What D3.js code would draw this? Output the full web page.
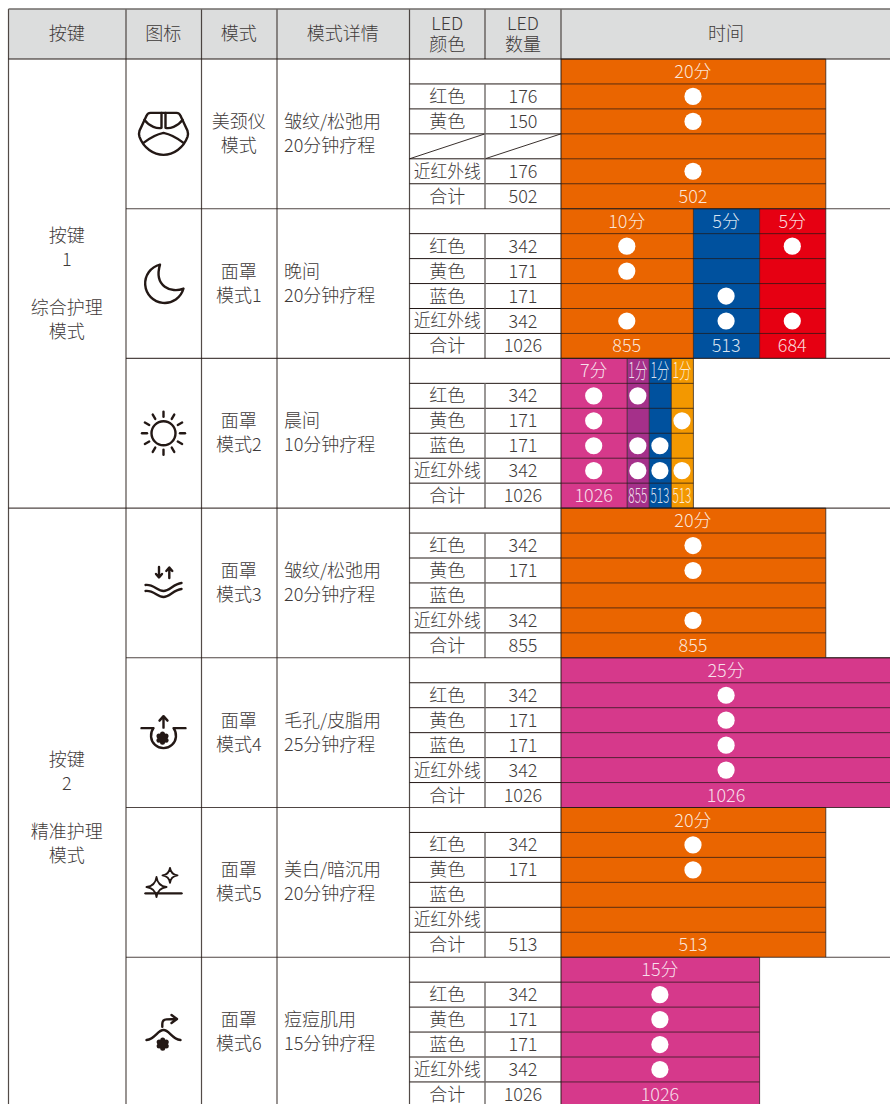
<!DOCTYPE html>
<html>
<head>
<meta charset="utf-8">
<style>
  body { margin: 0; background: #fff; }
  text { font-family: "Noto Sans CJK SC", "Noto Sans", sans-serif; font-weight: 300; }
</style>
<script src="https://cdn.jsdelivr.net/npm/d3@7"></script>
</head>
<body>
<div id="chart"></div>
<script>
// table content, one entry per mode
var headers = ["按键", "图标", "模式", "模式详情", ["LED", "颜色"], ["LED", "数量"], "时间"];
var buttonLabels = [["按键", "1", "", "综合护理", "模式"], ["按键", "2", "", "精准护理", "模式"]];
var buttonModeCounts = [3, 4];
var iconNames = ["neck", "moon", "sun", "waves", "pore", "sparkle", "acne"];
var modeNames = [["美颈仪", "模式"], ["面罩", "模式1"], ["面罩", "模式2"], ["面罩", "模式3"], ["面罩", "模式4"], ["面罩", "模式5"], ["面罩", "模式6"]];
var modeDetails = [
    ["皱纹/松弛用", "20分钟疗程"], ["晚间", "20分钟疗程"], ["晨间", "10分钟疗程"], ["皱纹/松弛用", "20分钟疗程"],
    ["毛孔/皮脂用", "25分钟疗程"], ["美白/暗沉用", "20分钟疗程"], ["痘痘肌用", "15分钟疗程"]
];
var ledNames = [
    ["红色", "黄色", null, "近红外线", "合计"],
    ["红色", "黄色", "蓝色", "近红外线", "合计"],
    ["红色", "黄色", "蓝色", "近红外线", "合计"],
    ["红色", "黄色", "蓝色", "近红外线", "合计"],
    ["红色", "黄色", "蓝色", "近红外线", "合计"],
    ["红色", "黄色", "蓝色", "近红外线", "合计"],
    ["红色", "黄色", "蓝色", "近红外线", "合计"]
];
var ledCounts = [
    [176, 150, null, 176, 502],
    [342, 171, 171, 342, 1026],
    [342, 171, 171, 342, 1026],
    [342, 171, "", 342, 855],
    [342, 171, 171, 342, 1026],
    [342, 171, "", "", 513],
    [342, 171, 171, 342, 1026]
];
var segmentMinutes = [[20], [10, 5, 5], [7, 1, 1, 1], [20], [25], [20], [15]];
var segmentKinds = [
    ["orange"], ["orange", "blue", "red"], ["pink", "purple", "blue", "amber"],
    ["orange"], ["pink"], ["orange"], ["pink"]
];
// one row per LED colour, one flag per segment
var ledOn = [
    [[1], [1], [0], [1]],
    [[1, 0, 1], [1, 0, 0], [0, 1, 0], [1, 1, 1]],
    [[1, 1, 0, 0], [1, 0, 0, 1], [1, 1, 1, 0], [1, 1, 1, 1]],
    [[1], [1], [0], [1]],
    [[1], [1], [1], [1]],
    [[1], [1], [0], [0]],
    [[1], [1], [1], [1]]
];
var segmentTotals = [[502], [855, 513, 684], [1026, 855, 513, 513], [855], [1026], [513], [1026]];

var width = 890, height = 1104;
var ink = "#3e3a39", line = "#231815";
var rowsPerMode = 6;
var headerTop = 9, bodyTop = 59, rowHeight = 24.95;

var cols = [8.5, 126, 201.5, 277, 409.5, 485, 561];

var y = d3.scaleLinear().domain([0, 1]).range([bodyTop, bodyTop + rowHeight]);
var x = d3.scaleLinear().domain([0, 25]).range([561, 892]);

var color = d3.scaleOrdinal()
    .domain(["orange", "blue", "red", "pink", "purple", "amber"])
    .range(["#ea6500", "#00519e", "#e60012", "#d6398b", "#a5308a", "#f39800"]);

// the morning programme is not drawn to scale: 7 min gets half the width
function drawnMinutes(mode, m) {
    if (mode === 2) return m === 7 ? 5 : 5 / 3;
    return m;
}

var svg = d3.select("#chart").append("svg")
    .attr("width", width)
    .attr("height", height)
    .style("display", "block");

function label(g, str, px, py, opts) {
    opts = opts || {};
    var t = g.append("text")
        .attr("x", px)
        .attr("y", py)
        .attr("text-anchor", opts.anchor || "middle")
        .attr("font-size", opts.size || 18)
        .attr("fill", opts.fill || ink)
        .attr("fill-opacity", opts.opacity || 1)
        .text(str);
    if (opts.squeeze) {
        // narrow cells use horizontally condensed text
        var sx = opts.squeeze / t.node().getComputedTextLength();
        t.attr("transform", "translate(" + px + ",0) scale(" + sx + ",1) translate(" + (-px) + ",0)");
    }
    return t;
}

// header band
svg.append("rect")
    .attr("x", cols[0]).attr("y", headerTop)
    .attr("width", width - cols[0]).attr("height", bodyTop - headerTop)
    .attr("fill", "#dcdddd");
var headerCentres = d3.pairs(cols.concat([892])).map(function(p) { return (p[0] + p[1]) / 2; });
headers.forEach(function(h, i) {
    if (Array.isArray(h)) {
        label(svg, h[0], headerCentres[i], 30);
        label(svg, h[1], headerCentres[i], 51);
    } else {
        label(svg, h, i === 6 ? 726 : headerCentres[i] - 0.5, 40);
    }
});

// time segments first, grid goes on top of them
modeNames.forEach(function(name, m) {
    var top = y(m * rowsPerMode);
    var g = svg.append("g").attr("class", "mode");
    var start = 0;
    var total = d3.sum(segmentMinutes[m], function(v) { return drawnMinutes(m, v); });
    segmentMinutes[m].forEach(function(min, s) {
        var span = drawnMinutes(m, min);
        g.append("rect")
            .attr("x", x(start)).attr("y", top)
            .attr("width", x(start + span) - x(start)).attr("height", rowHeight * rowsPerMode)
            .attr("fill", color(segmentKinds[m][s]));
        start += span;
    });
    // row rules across the coloured part
    d3.range(0, rowsPerMode).forEach(function(r) {
        g.append("line")
            .attr("x1", x(0)).attr("x2", x(total))
            .attr("y1", y(m * rowsPerMode + r)).attr("y2", y(m * rowsPerMode + r))
            .attr("stroke", line).attr("stroke-opacity", 0.72).attr("stroke-width", 1);
    });
    start = 0;
    segmentMinutes[m].forEach(function(min, s) {
        var span = drawnMinutes(m, min);
        var x0 = x(start), x1 = x(start + span), cx = (x0 + x1) / 2 - 0.4;
        g.append("line")
            .attr("x1", x1).attr("x2", x1).attr("y1", top).attr("y2", top + rowHeight * rowsPerMode)
            .attr("stroke", line).attr("stroke-opacity", 0.72).attr("stroke-width", 1);
        var narrow = span < 2;
        var barText = { fill: "#fff", opacity: 0.85, squeeze: narrow ? 19 : null, size: narrow ? 21 : 18 };
        label(g, min + "分", cx, y(m * rowsPerMode) + (narrow ? 20 : 19), barText);
        ledOn[m].forEach(function(flags, r) {
            if (!flags[s]) return;
            g.append("circle")
                .attr("cx", cx).attr("cy", y(m * rowsPerMode + r + 1.5))
                .attr("r", 8.6)
                .attr("fill", "#fff");
        });
        label(g, segmentTotals[m][s], cx, y(m * rowsPerMode + 5) + (narrow ? 20 : 19), barText);
        start += span;
    });

    // LED colour and count columns
    ledNames[m].forEach(function(led, r) {
        var ry = y(m * rowsPerMode + r + 1);
        g.append("line")
            .attr("x1", cols[4]).attr("x2", cols[6]).attr("y1", ry).attr("y2", ry)
            .attr("stroke", line).attr("stroke-width", 1);
        if (led === null) {
            [4, 5].forEach(function(c) {
                g.append("line")
                    .attr("x1", cols[c]).attr("x2", cols[c + 1])
                    .attr("y1", ry + rowHeight).attr("y2", ry)
                    .attr("stroke", line).attr("stroke-width", 0.9);
            });
            return;
        }
        label(g, led, headerCentres[4], ry + 19, { squeeze: led === "近红外线" ? 67 : null });
        label(g, ledCounts[m][r], headerCentres[5], ry + 19);
    });
    g.append("line")
        .attr("x1", cols[5]).attr("x2", cols[5])
        .attr("y1", y(m * rowsPerMode + 1)).attr("y2", y(m * rowsPerMode + rowsPerMode))
        .attr("stroke", "#6f6b69").attr("stroke-width", 1.4);

    // mode name and details
    var midY = y(m * rowsPerMode + rowsPerMode / 2);
    name.forEach(function(t, i) {
        label(g, t, headerCentres[2] - 0.5, midY + (i === 0 ? -6 : 18));
    });
    modeDetails[m].forEach(function(t, i) {
        label(g, t, 284, midY + (i === 0 ? -6 : 18), { anchor: "start" });
    });
    drawIcon(iconNames[m], g.append("g").attr("transform", "translate(163.5," + midY + ")"));
});

// button column
var modeOffset = 0;
buttonLabels.forEach(function(lines, b) {
    var mid = y((modeOffset + buttonModeCounts[b] / 2) * rowsPerMode);
    lines.forEach(function(t, i) {
        if (t) label(svg, t, headerCentres[0] - 0.5, mid + (i - 2) * 24 + 6);
    });
    modeOffset += buttonModeCounts[b];
});

// grid, the LED count rule is left out of the merged cell of each mode
var bottom = y(iconNames.length * rowsPerMode);
cols.forEach(function(c, i) {
    svg.append("line")
        .attr("x1", c).attr("x2", c).attr("y1", headerTop).attr("y2", i === 5 ? bodyTop : bottom)
        .attr("stroke", line).attr("stroke-opacity", 0.78).attr("stroke-width", 1.2);
});
svg.append("line").attr("x1", cols[0]).attr("x2", width).attr("y1", headerTop).attr("y2", headerTop)
    .attr("stroke", "#6f6b69").attr("stroke-width", 1.4);
svg.append("line").attr("x1", cols[0]).attr("x2", width).attr("y1", bodyTop).attr("y2", bodyTop)
    .attr("stroke", line).attr("stroke-width", 1.2);
iconNames.forEach(function(n, m) {
    if (m === 0) return;
    svg.append("line")
        .attr("x1", m === buttonModeCounts[0] ? cols[0] : cols[1]).attr("x2", width)
        .attr("y1", y(m * rowsPerMode)).attr("y2", y(m * rowsPerMode))
        .attr("stroke", line).attr("stroke-opacity", 0.8).attr("stroke-width", 1.1);
});

// icon glyphs, drawn around (0,0) of the icon cell
function drawIcon(name, g) {
    g.attr("fill", "none").attr("stroke", "#231815").attr("stroke-width", 2.4)
        .attr("stroke-linecap", "round").attr("stroke-linejoin", "round");
    function path(d) { return g.append("path").attr("d", d); }
    function flower(cx, cy) {
        d3.range(6).forEach(function(i) {
            var a = i * Math.PI / 3 + Math.PI / 6;
            g.append("circle")
                .attr("cx", cx + 4.1 * Math.cos(a)).attr("cy", cy + 4.1 * Math.sin(a))
                .attr("r", 2.5).attr("fill", "#231815").attr("stroke", "none");
        });
        g.append("circle").attr("cx", cx).attr("cy", cy).attr("r", 3.8).attr("fill", "#231815").attr("stroke", "none");
    }
    function star(cx, cy, r) {
        var k = r * 0.12;
        path("M" + cx + "," + (cy - r) +
            "Q" + (cx + k) + "," + (cy - k) + " " + (cx + r) + "," + cy +
            "Q" + (cx + k) + "," + (cy + k) + " " + cx + "," + (cy + r) +
            "Q" + (cx - k) + "," + (cy + k) + " " + (cx - r) + "," + cy +
            "Q" + (cx - k) + "," + (cy - k) + " " + cx + "," + (cy - r) + "Z")
            .attr("stroke-width", 1.9);
    }
    if (name === "neck") {
        path("M-13,-21Q-16,-21 -17,-18L-24,-3Q-25,0 -24,3C-20,14 -10,21 0,21C10,21 20,14 24,3Q25,0 24,-3L17,-18Q16,-21 13,-21Z");
        path("M-19,-14C-14,-7 -6,-5 -2,-6L-2,-21");
        path("M19,-14C14,-7 6,-5 2,-6L2,-21");
        path("M-20,9C-11,2 -5,0 0,-1C5,0 11,2 20,9");
    } else if (name === "moon") {
        path("M-3.5,-19A19.5,19.5 0 1 0 20,5C8,10 -10,3 -3.5,-19Z");
    } else if (name === "sun") {
        g.append("circle").attr("r", 12);
        d3.range(12).forEach(function(i) {
            var a = i * Math.PI / 6;
            g.append("line")
                .attr("x1", 16.5 * Math.cos(a)).attr("y1", 16.5 * Math.sin(a))
                .attr("x2", 21.5 * Math.cos(a)).attr("y2", 21.5 * Math.sin(a));
        });
    } else if (name === "waves") {
        path("M-18,2C-10,1 -6,8 0,8C6,8 10,1 18,0");
        path("M-18,8C-10,7 -6,14 0,14C6,14 10,7 18,6");
        path("M-4.5,-16L-4.5,-6M-7.5,-9L-4.5,-5.5L-1.5,-9");
        path("M5.8,-5L5.8,-15M2.8,-12L5.8,-15.5L8.8,-12");
    } else if (name === "pore") {
        path("M-22,-4.5L-10,-4.5A12.5,12.5 0 1 0 10,-4.5L22,-4.5");
        path("M0,-5L0,-16M-4,-12L0,-16.5L4,-12");
        flower(-1, 5.5);
    } else if (name === "sparkle") {
        star(-7, 4.7, 10);
        star(6.5, -7, 7.5);
        path("M-18,11L18,11");
    } else if (name === "acne") {
        path("M-17,8C-8,7 -6,-2 0,-2C6,-2 8,7 17,8");
        path("M-1.2,-5.3L-1.2,-8Q-1.2,-12.5 3,-12.7L13,-13M8,-17L13.5,-13L8,-9");
        flower(-0.8, 12);
    }
}
</script>
</body>
</html>
